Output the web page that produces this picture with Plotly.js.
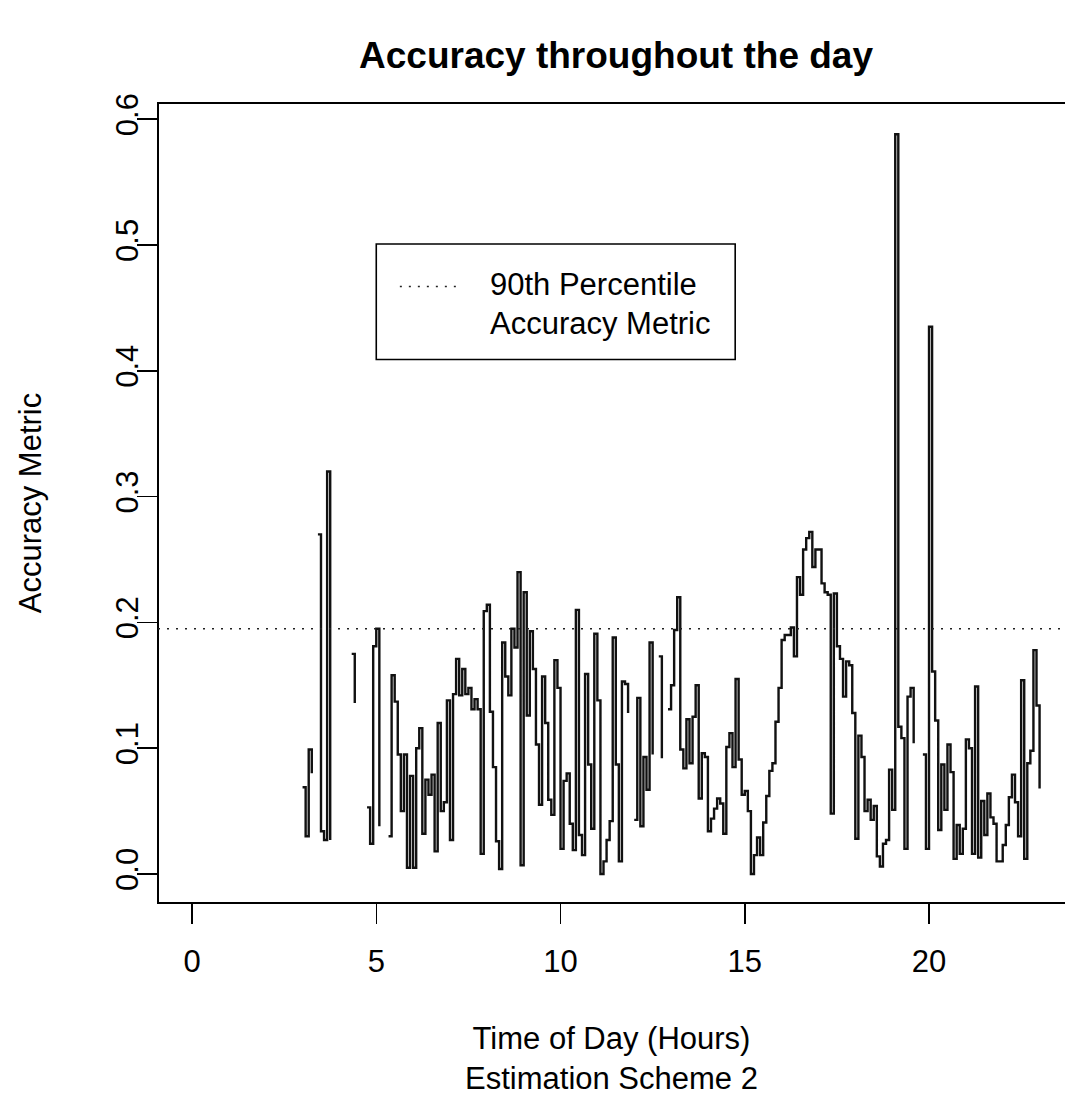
<!DOCTYPE html>
<html>
<head>
<meta charset="utf-8">
<script src="https://cdn.plot.ly/plotly-3.0.1.min.js"></script>
<style>
  html, body { margin: 0; padding: 0; background: #ffffff; }
  #chart { width: 1065px; height: 1096px; }
</style>
</head>
<body>
<div id="chart"></div>
<script>
// Accuracy metric sampled every 5 minutes, one array per hour (null = no estimate)
const h03 = [0.069, 0.030, 0.099, 0.080, null, 0.270, 0.034, 0.027, 0.320, 0.027, null, null];
const h04 = [null, null, null, null, 0.175, 0.136, null, null, null, 0.053, 0.024, 0.181];
const h05 = [0.195, 0.038, null, null, 0.030, 0.158, 0.137, 0.095, 0.050, 0.095, 0.005, 0.078];
const h06 = [0.005, 0.100, 0.116, 0.032, 0.075, 0.063, 0.079, 0.018, 0.120, 0.050, 0.057, 0.138];
const h07 = [0.027, 0.143, 0.171, 0.142, 0.163, 0.143, 0.148, 0.131, 0.139, 0.131, 0.016, 0.209];
const h08 = [0.214, 0.129, 0.085, 0.026, 0.004, 0.184, 0.157, 0.142, 0.195, 0.180, 0.240, 0.007];
const h09 = [0.224, 0.126, 0.193, 0.163, 0.103, 0.055, 0.157, 0.120, 0.059, 0.047, 0.170, 0.148];
const h10 = [0.020, 0.074, 0.080, 0.040, 0.019, 0.210, 0.031, 0.015, 0.159, 0.087, 0.036, 0.191];
const h11 = [0.138, 0.000, 0.010, 0.027, 0.042, 0.188, 0.087, 0.010, 0.153, 0.151, 0.128, null];
const h12 = [0.043, 0.140, 0.038, 0.093, 0.067, 0.184, 0.095, null, 0.173, 0.092, null, 0.131];
const h13 = [0.150, 0.194, 0.220, 0.099, 0.084, 0.123, 0.088, 0.125, 0.150, 0.060, 0.096, 0.093];
const h14 = [0.034, 0.044, 0.052, 0.060, 0.056, 0.032, 0.101, 0.112, 0.085, 0.155, 0.091, 0.063];
const h15 = [0.066, 0.050, 0.000, 0.015, 0.029, 0.015, 0.041, 0.062, 0.082, 0.088, 0.121, 0.148];
const h16 = [0.186, 0.190, 0.190, 0.196, 0.173, 0.236, 0.222, 0.258, 0.267, 0.272, 0.244, 0.258];
const h17 = [0.258, 0.231, 0.224, 0.222, 0.048, 0.223, 0.181, 0.171, 0.141, 0.169, 0.166, 0.128];
const h18 = [0.028, 0.110, 0.093, 0.050, 0.059, 0.043, 0.054, 0.014, 0.006, 0.024, 0.027, 0.083];
const h19 = [0.051, 0.588, 0.117, 0.108, 0.020, 0.141, 0.148, 0.104, null, null, 0.095, 0.020];
const h20 = [0.435, 0.161, 0.122, 0.035, 0.087, 0.051, 0.103, 0.081, 0.012, 0.039, 0.016, 0.036];
const h21 = [0.107, 0.100, 0.016, 0.149, 0.013, 0.058, 0.031, 0.064, 0.045, 0.040, 0.010, 0.010];
const h22 = [0.023, 0.039, 0.061, 0.079, 0.057, 0.030, 0.154, 0.012, 0.088, 0.098, 0.178, 0.134];
const h23 = [0.068];

const firstHour = 3;
const samplesPerHour = 12;
const percentile90 = [0.195];

const xTickVals = [0, 5, 10, 15, 20];
const yTickVals = [0, 0.1, 0.2, 0.3, 0.4, 0.5, 0.6];
const yTickText = ['0.0', '0.1', '0.2', '0.3', '0.4', '0.5', '0.6'];
const legendLabels = ['90th Percentile', 'Accuracy Metric'];

const accuracy = [].concat(h03, h04, h05, h06, h07, h08, h09, h10, h11, h12,
                           h13, h14, h15, h16, h17, h18, h19, h20, h21, h22, h23);
const hours = accuracy.map((_, i) => firstHour + i / samplesPerHour);

const FONT = 'Liberation Sans, Arial, Helvetica, sans-serif';

const traces = [{
  type: 'scatter',
  mode: 'lines',
  x: hours,
  y: accuracy,
  line: { shape: 'hv', color: '#111111', width: 2.4 },
  connectgaps: false,
  showlegend: false,
  hoverinfo: 'x+y'
}];

const layout = {
  width: 1065,
  height: 1096,
  margin: { l: 158, r: 0, t: 103, b: 193, pad: 0 },
  paper_bgcolor: '#ffffff',
  plot_bgcolor: '#ffffff',
  showlegend: false,
  font: { family: FONT, size: 31, color: '#000000' },
  title: {
    text: '<b>Accuracy throughout the day</b>',
    font: { family: FONT, size: 37, color: '#000000' },
    xref: 'paper', x: 0.505, xanchor: 'center',
    yref: 'container', y: 0.95, yanchor: 'middle'
  },
  xaxis: {
    range: [-0.923, 23.69],
    tickvals: xTickVals,
    ticktext: xTickVals.map(String),
    ticks: 'outside', ticklen: 20, tickwidth: 1.5, tickcolor: '#000000',
    ticklabelstandoff: 11,
    tickfont: { family: FONT, size: 31, color: '#000000' },
    showgrid: false, zeroline: false, showline: false,
    title: {
      text: 'Time of Day (Hours)<br>Estimation Scheme 2',
      font: { family: FONT, size: 31, color: '#000000' },
      standoff: 55
    }
  },
  yaxis: {
    range: [-0.02305, 0.6129],
    tickvals: yTickVals,
    ticktext: yTickText,
    tickangle: -90,
    ticks: 'outside', ticklen: 20, tickwidth: 1.5, tickcolor: '#000000',
    ticklabelstandoff: -13,
    tickfont: { family: FONT, size: 31, color: '#000000' },
    showgrid: false, zeroline: false, showline: false,
    title: {
      text: 'Accuracy Metric',
      font: { family: FONT, size: 31, color: '#000000' },
      standoff: 58
    }
  },
  shapes: [
    // plot frame (right edge runs past the page)
    { type: 'rect', xref: 'paper', yref: 'paper', x0: 0, x1: 1.05, y0: 0, y1: 1,
      line: { color: '#000000', width: 2 } },
    // 90th percentile reference line
    { type: 'line', xref: 'paper', yref: 'y', x0: 0, x1: 1,
      y0: percentile90[0], y1: percentile90[0],
      line: { color: '#222222', width: 1.6, dash: '2px,7px' } },
    // legend box
    { type: 'rect', xref: 'x', yref: 'y', x0: 5.0, x1: 14.74, y0: 0.409, y1: 0.5008,
      line: { color: '#000000', width: 1.6 }, fillcolor: '#ffffff' },
    // legend sample for the percentile line
    { type: 'line', xref: 'x', yref: 'y', x0: 5.64, x1: 7.27, y0: 0.467, y1: 0.467,
      line: { color: '#222222', width: 1.6, dash: '2px,7px' } }
  ],
  annotations: [
    { xref: 'x', yref: 'y', x: 8.04, y: 0.469, xanchor: 'left', yanchor: 'middle',
      text: legendLabels[0], showarrow: false,
      font: { family: FONT, size: 31, color: '#000000' } },
    { xref: 'x', yref: 'y', x: 8.04, y: 0.438, xanchor: 'left', yanchor: 'middle',
      text: legendLabels[1], showarrow: false,
      font: { family: FONT, size: 31, color: '#000000' } }
  ]
};

Plotly.newPlot('chart', traces, layout, { staticPlot: true, displayModeBar: false });
</script>
</body>
</html>
